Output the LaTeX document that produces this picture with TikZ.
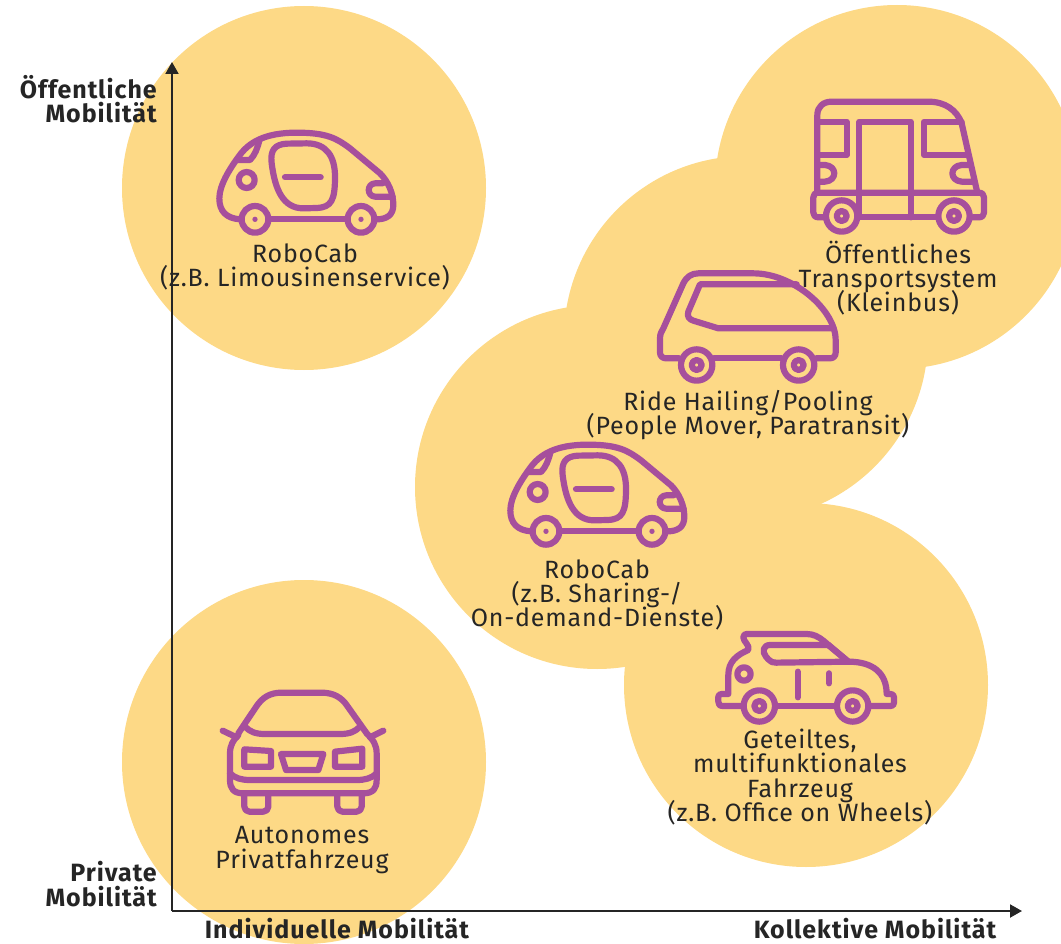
\documentclass[tikz,border=0pt]{standalone}
\usepackage{fontspec}
\setmainfont[LetterSpace=3.2,BoldFeatures={LetterSpace=3.9}]{Fira Sans}
\usetikzlibrary{arrows.meta}
\definecolor{blob}{HTML}{FDD986}
\definecolor{iconc}{HTML}{A64F9C}
\definecolor{textc}{HTML}{252525}
\newcommand{\lblfont}{\fontsize{25}{24.3}\selectfont\setlength{\lineskiplimit}{-10pt}}
\newcommand{\wheel}[3]{\draw[icon] (#1,#2) circle (#3); \fill[iconc] (#1,#2) circle (8);}
\newcommand{\robocab}{
\draw[icon] (120,328) .. controls (80,325) and (58,305) .. (58,265) .. controls (58,225) and (90,175) .. (118,137) .. controls (145,100) and (190,68) .. (290,68) .. controls (380,68) and (410,85) .. (450,115) -- (540,190) .. controls (565,215) and (580,250) .. (580,285) .. controls (580,315) and (560,328) .. (530,328);
\draw[icon] (210,328) -- (440,328);
\wheel{165}{328}{40}
\wheel{483}{328}{40}
\draw[icon] (178,92) .. controls (172,115) and (165,135) .. (150,150) -- (112,150);
\draw[icon] (140,210) circle (24);
\draw[icon] (215,160) .. controls (210,120) and (225,103) .. (260,101) -- (320,100) .. controls (380,100) and (405,140) .. (405,200) .. controls (405,270) and (395,292) .. (350,294) -- (310,295) .. controls (250,295) and (225,240) .. (215,160) -- cycle;
\draw[icon] (255,202) -- (362,202);
\draw[icon] (548,220) -- (525,220) .. controls (500,222) and (500,258) .. (525,260) -- (578,260);
}

\begin{document}
\begin{tikzpicture}
[x=1pt,y=-1pt,
blobc/.style={fill=blob,draw=none},
icon/.style={draw=iconc,line width=6.2pt,line cap=round,line join=round},
axis/.style={-{Triangle[length=12pt,width=13pt]},textc,line width=2pt},
lbl/.style={textc,align=center,font=\lblfont},
ax/.style={textc,align=right,inner sep=0pt,font=\bfseries\lblfont}]
\useasboundingbox (0,0) rectangle (1061,944);

% circles
\fill[blobc] (304,188) circle (182);
\fill[blobc] (304,762) circle (182);
\fill[blobc] (897,187) circle (182);
\fill[blobc] (746,338) circle (182);
\fill[blobc] (597,487) circle (182);
\fill[blobc] (806,685) circle (182);

% axes
\coordinate (orig) at (172,911);
\coordinate (ytop) at (172,62);
\coordinate (xend) at (1022,911);
\draw[axis] (orig) -- (ytop);
\draw[axis] (orig) -- (xend);

% top left cab
\begin{scope}[shift={(200,110)},scale=1/3]
\robocab
\end{scope}
% middle cab
\begin{scope}[shift={(491,422)},scale=1/3]
\robocab
\end{scope}

% bus
\begin{scope}[shift={(790,80)},scale=1/3]
\draw[icon] (82,338) -- (82,105) .. controls (82,80) and (100,65) .. (125,65) -- (415,65) .. controls (465,65) and (500,90) .. (515,130) -- (562,338);
\draw[icon] (105,412) -- (85,412) .. controls (75,412) and (70,405) .. (70,398) -- (70,352) .. controls (70,345) and (75,338) .. (85,338) -- (567,338) .. controls (577,338) and (582,345) .. (582,352) -- (582,398) .. controls (582,405) and (577,412) .. (567,412) -- (548,412);
\draw[icon] (212,412) -- (438,412);
\draw[icon] (208,412) -- (208,125) -- (362,125) -- (362,412);
\draw[icon] (82,125) -- (170,125) -- (170,225) -- (82,225);
\draw[icon] (515,125) -- (402,125) -- (402,225) -- (528,225);
\draw[icon] (82,255) -- (105,255) .. controls (142,258) and (142,302) .. (105,305) -- (82,305);
\draw[icon] (538,255) -- (515,255) .. controls (478,258) and (478,302) .. (515,305) -- (550,305);
\draw[icon] (155,408) circle (47);
\draw[icon] (155,408) circle (15);
\draw[icon] (492,408) circle (47);
\draw[icon] (492,408) circle (15);
\end{scope}

% van
\begin{scope}[shift={(640,260)},scale=1/3]
\draw[icon] (118,295) -- (78,295) .. controls (68,295) and (60,288) .. (60,278) -- (60,235) .. controls (60,220) and (65,215) .. (70,205) -- (130,70) .. controls (140,50) and (155,40) .. (175,40) -- (340,40) .. controls (460,40) and (587,150) .. (587,240) -- (587,278) .. controls (587,288) and (580,295) .. (570,295) -- (528,295);
\draw[icon] (222,295) -- (424,295);
\draw[icon] (470,73) -- (180,73) -- (145,155) .. controls (140,170) and (148,178) .. (160,182) -- (235,205) -- (580,205);
\draw[icon] (170,315) circle (47);
\draw[icon] (170,315) circle (15);
\draw[icon] (476,315) circle (47);
\draw[icon] (476,315) circle (15);
\end{scope}

% car
\begin{scope}[shift={(700,620)},scale=1/3]
\draw[icon] (130,258) -- (68,258) .. controls (58,258) and (55,252) .. (55,245) -- (55,230) .. controls (55,225) and (60,222) .. (65,222) -- (85,222) -- (85,165) .. controls (85,125) and (110,105) .. (145,90) .. controls (150,75) and (130,65) .. (130,52) .. controls (130,45) and (135,42) .. (140,42) -- (320,42) .. controls (340,42) and (355,50) .. (370,62) -- (445,125) .. controls (520,125) and (560,160) .. (560,222) -- (572,222) .. controls (578,222) and (582,225) .. (582,232) -- (582,248) .. controls (582,255) and (578,258) .. (572,258) -- (510,258);
\draw[icon] (228,258) -- (408,258);
\draw[icon] (385,75) -- (210,75) .. controls (190,75) and (185,95) .. (198,110) -- (205,118) .. controls (212,126) and (218,128) .. (228,128) -- (445,125);
\draw[icon] (385,75) -- (445,125);
\draw[icon] (293,155) -- (293,232);
\draw[icon] (387,160) -- (387,190);
\draw[icon] (132,162) circle (20);
\draw[icon] (178,258) circle (47);
\draw[icon] (178,258) circle (15);
\draw[icon] (458,258) circle (47);
\draw[icon] (458,258) circle (15);
\end{scope}

% front car
\begin{scope}[shift={(210,680)},scale=1/3]
\draw[icon] (85,160) -- (140,78) .. controls (158,52) and (180,38) .. (215,38) -- (335,38) .. controls (370,38) and (395,52) .. (412,78) -- (470,160);
\draw[icon] (105,140) .. controls (120,155) and (135,162) .. (165,162) -- (390,162) .. controls (420,162) and (435,155) .. (450,140);
\draw[icon] (85,165) .. controls (70,180) and (60,195) .. (60,220) -- (60,300) .. controls (60,325) and (70,340) .. (100,340) -- (460,340) .. controls (490,340) and (500,325) .. (500,300) -- (500,220) .. controls (500,195) and (490,180) .. (470,160);
\draw[icon] (38,152) -- (80,172);
\draw[icon] (520,152) -- (480,172);
\draw[icon] (103,208) -- (183,213) -- (183,260) -- (103,260) -- cycle;
\draw[icon] (375,215) -- (457,206) -- (457,260) -- (375,260) -- cycle;
\draw[icon] (213,222) -- (340,222) -- (325,270) -- (228,270) -- cycle;
\draw[icon] (60,280) .. controls (75,295) and (95,300) .. (120,300) -- (440,300) .. controls (465,300) and (485,295) .. (500,280);
\draw[icon,rounded corners=5pt] (103,345) -- (103,395) -- (175,395) -- (175,345);
\draw[icon,rounded corners=5pt] (382,345) -- (382,395) -- (455,395) -- (455,345);
\end{scope}

% labels
\node (cab1) at (305,267) [lbl] {RoboCab\\(z.B. Limousinenservice)};
\node (bus) at (898,278) [lbl] {Öffentliches\\Transportsystem\\(Kleinbus)};
\node (van) at (748,415) [lbl] {Ride Hailing/Pooling\\(People Mover, Paratransit)};
\node (cab2) at (597,595) [lbl] {RoboCab\\(z.B. Sharing-/\\On-demand-Dienste)};
\node (car) at (800,777) [lbl] {Geteiltes,\\multifunktionales\\Fahrzeug\\(z.B. Office on Wheels)};
\node (priv) at (302,850) [lbl] {Autonomes\\Privatfahrzeug};

\node (yhi) [ax,anchor=east] at (157,99) {Öffentliche\\Mobilität};
\node (ylo) [ax,anchor=east] at (157,884) {Private\\Mobilität};
\node (xlo) [ax] at (337,929) {Individuelle Mobilität};
\node (xhi) [ax] at (875,929) {Kollektive Mobilität};
\end{tikzpicture}
\end{document}
